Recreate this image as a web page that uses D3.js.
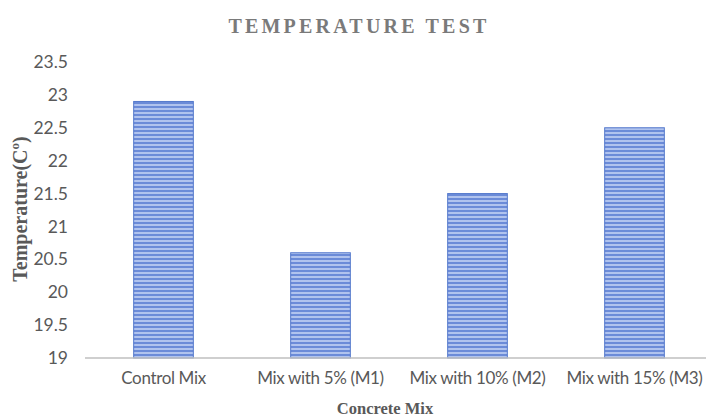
<!DOCTYPE html>
<html><head><meta charset="utf-8">
<script src="https://cdn.jsdelivr.net/npm/d3@7"></script>
<style>body{margin:0;background:#fff}svg{display:block}</style>
</head><body>
<script>
const categories = ["Control Mix", "Mix with 5% (M1)", "Mix with 10% (M2)", "Mix with 15% (M3)"];
const values = [22.9, 20.6, 21.5, 22.5];
const yTicks = [19, 19.5, 20, 20.5, 21, 21.5, 22, 22.5, 23, 23.5];
const title = "TEMPERATURE TEST";
const xTitle = "Concrete Mix";

const W = 706, H = 418;
const svg = d3.select("body").append("svg").attr("width", W).attr("height", H);

const defs = svg.append("defs");
const pat = defs.append("pattern").attr("id","stripes").attr("patternUnits","userSpaceOnUse")
  .attr("width",8).attr("height",4);
pat.append("rect").attr("width",8).attr("height",4).attr("fill","#b0c3ee");
pat.append("rect").attr("y",2).attr("width",8).attr("height",2).attr("fill","#6b8bd8");

const x = d3.scaleBand().domain(categories).range([85, 713]).paddingInner(0.62).paddingOuter(0.31);
const y = d3.scaleLinear().domain([19, 23.5]).range([358, 62]);

svg.append("text").attr("x", 359).attr("y", 33).attr("text-anchor","middle")
  .attr("font-family","'Liberation Serif', 'DejaVu Serif', serif").attr("font-weight","bold")
  .attr("font-size",20).attr("letter-spacing",3.2).attr("fill","#7a7a7a").text(title);

// y tick labels
const yAxis = svg.append("g").attr("transform","translate(85,0)")
  .call(d3.axisLeft(y).tickValues(yTicks).tickSize(0).tickPadding(17).tickFormat(d3.format("")));
yAxis.select(".domain").remove();
yAxis.selectAll("text").attr("font-family","Lato, 'Open Sans', sans-serif").attr("font-size",17.5).attr("fill","#595959");

// bars
svg.append("g").selectAll("rect").data(categories).join("rect")
  .attr("x", d => x(d)).attr("width", x.bandwidth())
  .attr("y", (d,i) => y(values[i])).attr("height", (d,i) => y(19) - y(values[i]))
  .attr("fill","url(#stripes)").attr("stroke","#5479cc").attr("stroke-width",1);

// x axis
const xAxis = svg.append("g").attr("transform","translate(0,358)")
  .call(d3.axisBottom(x).tickSize(0).tickPadding(14));
xAxis.select(".domain").attr("stroke","#bfbfbf").attr("stroke-width",1.5).attr("d","M85,0H706");
xAxis.selectAll("text").attr("font-family","Lato, 'Open Sans', sans-serif").attr("font-size",17)
  .attr("letter-spacing",-0.35).attr("fill","#595959");

svg.append("text").attr("x", 385).attr("y", 414).attr("text-anchor","middle")
  .attr("font-family","'Liberation Serif', serif").attr("font-weight","bold")
  .attr("font-size",16.5).attr("fill","#595959").text(xTitle);

const yt = svg.append("text").attr("transform","translate(27,209) rotate(-90)").attr("text-anchor","middle")
  .attr("font-family","'Liberation Serif', serif").attr("font-weight","bold")
  .attr("font-size",20).attr("fill","#595959");
yt.append("tspan").text("Temperature(C");
yt.append("tspan").attr("font-size",13).attr("dy",-8).text("o");
yt.append("tspan").attr("dy",8).text(")");
</script>
</body></html>
